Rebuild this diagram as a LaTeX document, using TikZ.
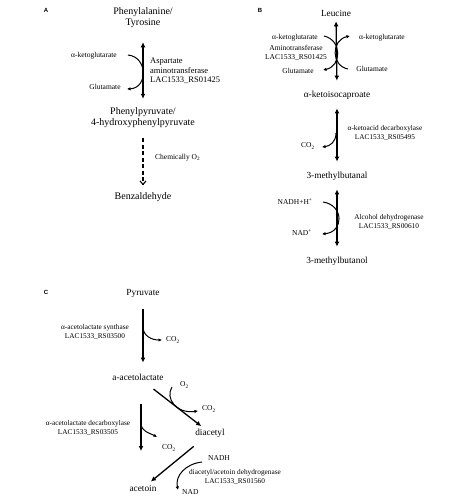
\documentclass[tikz,border=0pt]{standalone}
\usepackage{fontspec}
\setmainfont{Liberation Serif}
\newfontfamily\panelfont{Liberation Sans}
\usetikzlibrary{arrows.meta}
\begin{document}
\begin{tikzpicture}[x=1pt,y=-1pt,
  big/.style={inner sep=0pt,font=\fontsize{10}{11}\selectfont,align=center},
  bigC/.style={inner sep=0pt,font=\fontsize{9.3}{11}\selectfont,align=center},
  small/.style={inner sep=0pt,font=\fontsize{7.5}{9}\selectfont,align=center},
  enz/.style={inner sep=0pt,font=\fontsize{8.5}{9.3}\selectfont,align=left},
  enzs/.style={inner sep=0pt,font=\fontsize{7.3}{9}\selectfont,align=center},
  panel/.style={inner sep=0pt,font=\panelfont\bfseries\fontsize{6}{7}\selectfont},
  dbl/.style={line width=1.3pt,{Latex[length=5pt,width=5pt]}-{Latex[length=5pt,width=5pt]}},
  onew/.style={line width=1.3pt,-{Latex[length=5pt,width=5pt]}},
  side/.style={line width=1pt,-{Latex[length=3.5pt,width=3.5pt]}},
  dashedarrow/.style={line width=1.1pt,dash pattern=on 4pt off 2.5pt,-{Straight Barb[length=3.5pt,width=6pt]}}]
\useasboundingbox (0,0) rectangle (474,504);
% ---------------- Panel A
\node[panel] (labA) at (46,10) {A};
\node[big] (phe) at (143,18) {Phenylalanine/\\Tyrosine};
\node[big] (php) at (143,118) {Phenylpyruvate/\\4-hydroxyphenylpyruvate};
\node[big] (bza) at (143,197) {Benzaldehyde};
\node[small] (akgA) at (94,56) {α-ketoglutarate};
\node[small] (gluA) at (105,87) {Glutamate};
\node[enz,anchor=west] (enzA) at (150,71) {Aspartate\\aminotransferase\\LAC1533\_RS01425};
\node[small,anchor=west] (chem) at (155,158) {Chemically O\textsubscript{2}};
\draw[dbl,shorten <=14pt,shorten >=9pt] (phe.south) -- (php.north);
\draw[dashedarrow,shorten <=10pt,shorten >=7pt] (php.south) -- (bza.north);
\coordinate (cA1) at (128,55);
\coordinate (cA2) at (127,89);
\draw[side] (cA1) .. controls (148,57) and (148,88) .. (cA2);
% ---------------- Panel B
\node[panel] (labB) at (260,10) {B};
\node[bigC] (leu) at (336,13) {Leucine};
\node[bigC] (kic) at (337,95) {α-ketoisocaproate};
\node[bigC] (mbal) at (337,176) {3-methylbutanal};
\node[bigC] (mbol) at (337,261) {3-methylbutanol};
\node[small] (akgB1) at (295,38) {α-ketoglutarate};
\node[small] (atB) at (296,53) {Aminotransferase\\LAC1533\_RS01425};
\node[small] (gluB1) at (298,71) {Glutamate};
\node[small] (akgB2) at (382,38) {α-ketoglutarate};
\node[small] (gluB2) at (372,69) {Glutamate};
\node[small] (co2B) at (308,146) {CO\textsubscript{2}};
\node[enzs] (kdc) at (385,133) {α-ketoacid decarboxylase\\LAC1533\_RS05495};
\node[small] (nadhB) at (295,202) {NADH+H\textsuperscript{+}};
\node[small] (nadB) at (302,233) {NAD\textsuperscript{+}};
\node[enzs] (adh) at (389,222) {Alcohol dehydrogenase\\LAC1533\_RS00610};
\draw[dbl,shorten <=5pt,shorten >=10pt] (leu.south) -- (kic.north);
\draw[dbl,shorten <=9pt,shorten >=10pt] (kic.south) -- (mbal.north);
\draw[dbl,shorten <=9pt,shorten >=10pt] (mbal.south) -- (mbol.north);
\coordinate (cB1) at (324,36);
\coordinate (cB2) at (323,70);
\coordinate (cB3) at (348,69);
\coordinate (cB4) at (350,36);
\draw[side] (cB1) .. controls (342,40) and (342,66) .. (cB2);
\draw[side] (cB3) .. controls (331,66) and (331,40) .. (cB4);
\coordinate (cB5) at (336,133);
\coordinate (cB6) at (322,147);
\draw[side] (cB5) .. controls (336,142) and (330,146) .. (cB6);
\coordinate (cB7) at (323,202);
\coordinate (cB8) at (322,234);
\draw[side] (cB7) .. controls (344,205) and (344,232) .. (cB8);
% ---------------- Panel C
\node[panel] (labC) at (46,292) {C};
\node[bigC] (pyr) at (143,293) {Pyruvate};
\node[bigC] (aal) at (138,377) {a-acetolactate};
\node[bigC] (dia) at (210,433) {diacetyl};
\node[bigC] (act) at (143,488) {acetoin};
\node[enzs] (als) at (95,332) {α-acetolactate synthase\\LAC1533\_RS03500};
\node[small,anchor=west] (co2C1) at (166,340) {CO\textsubscript{2}};
\node[enzs] (ald) at (88,428) {α-acetolactate decarboxylase\\LAC1533\_RS03505};
\node[small,anchor=west] (co2C2) at (162,448) {CO\textsubscript{2}};
\node[small,anchor=west] (o2C) at (180,385) {O\textsubscript{2}};
\node[small,anchor=west] (co2C3) at (202,409) {CO\textsubscript{2}};
\node[small,anchor=west] (nadhC) at (208,458) {NADH};
\node[small,anchor=west] (nadC) at (182,492) {NAD};
\node[enzs] (dad) at (235,477) {diacetyl/acetoin dehydrogenase\\LAC1533\_RS01560};
\draw[onew,shorten <=12pt,shorten >=11pt] (pyr.south) -- (pyr.south |- aal.north);
\coordinate (cC1) at (143,327);
\coordinate (cC2) at (162,340);
\draw[side] (cC1) .. controls (143,336) and (152,340) .. (cC2);
\coordinate (l1) at (141,404);
\coordinate (l2) at (141,451);
\draw[onew] (l1) -- (l2);
\coordinate (cC3) at (141,423);
\coordinate (cC4) at (157,437);
\draw[side] (cC3) .. controls (141,432) and (150,433) .. (cC4);
\draw[onew,shorten <=14pt,shorten >=4pt] (aal) -- (dia);
\coordinate (cC5) at (172,387);
\coordinate (cC6) at (198,411);
\draw[side] (cC5) .. controls (165,398) and (176,414) .. (cC6);
\draw[onew,shorten <=14pt,shorten >=5pt] (dia) -- (act);
\coordinate (cC7) at (202,462);
\coordinate (cC8) at (178,490);
\draw[side] (cC7) .. controls (185,464) and (175,476) .. (cC8);
\end{tikzpicture}
\end{document}
